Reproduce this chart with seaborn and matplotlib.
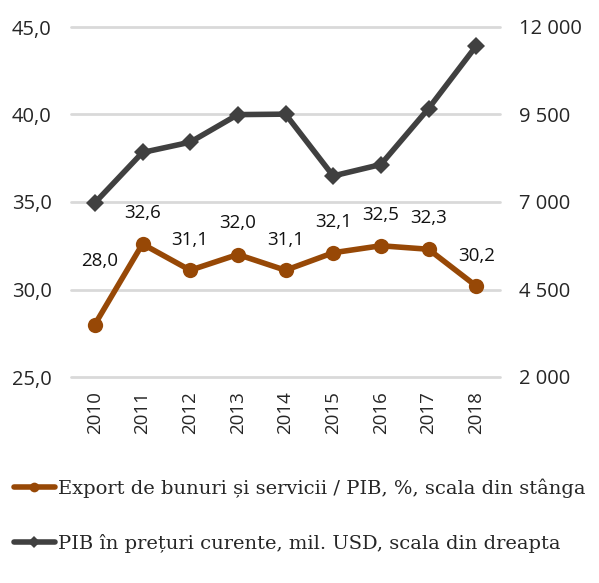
import matplotlib
matplotlib.use("Agg")
import matplotlib.pyplot as plt
from matplotlib.lines import Line2D
import seaborn as sns
import pandas as pd
from matplotlib.ticker import FuncFormatter, FixedLocator

years = [2010, 2011, 2012, 2013, 2014, 2015, 2016, 2017, 2018]
export_share = [28.0, 32.6, 31.1, 32.0, 31.1, 32.1, 32.5, 32.3, 30.2]
gdp_usd = [6975, 8415, 8709, 9497, 9510, 7745, 8071, 9670, 11457]
left_ticks = [25.0, 30.0, 35.0, 40.0, 45.0]
right_ticks = [2000, 4500, 7000, 9500, 12000]
label_export = "Export de bunuri și servicii / PIB, %, scala din stânga"
label_gdp = "PIB în prețuri curente, mil. USD, scala din dreapta"
# label offsets in pixels (dx, dy) relative to point
label_offsets = [(5, 63), (0, 31), (0, 30), (0, 31), (0, 30), (0, 31), (0, 31), (0, 31), (0, 30)]

df = pd.DataFrame({"year": years, "export": export_share, "gdp": gdp_usd})

sns.set_theme(style="white")
plt.rcParams["font.family"] = ["Open Sans", "DejaVu Sans"]

fig = plt.figure(figsize=(5.99, 5.83), dpi=100)
ax = fig.add_axes([71/599, 1-377/583, (500-71)/599, (377-27)/583])
ax2 = ax.twinx()

orange = "#974806"
gray = "#404040"

ax.set_ylim(25, 45)
ax2.set_ylim(2000, 12000)
ax.set_xlim(2009.5, 2018.5)
ax.yaxis.set_major_locator(FixedLocator(left_ticks))
ax2.yaxis.set_major_locator(FixedLocator(right_ticks))
ax2.grid(True, axis="y", color="#d9d9d9", linewidth=2)
ax2.set_axisbelow(True)
for gl in ax2.get_ygridlines():
    gl.set_clip_on(False)

sns.lineplot(data=df, x="year", y="gdp", ax=ax2, color=gray, linewidth=4, marker="D",
             markersize=9, markeredgewidth=0, legend=False)
sns.lineplot(data=df, x="year", y="export", ax=ax, color=orange, linewidth=4, marker="o",
             markersize=11, markeredgewidth=0, legend=False)

ax.set_zorder(ax2.get_zorder() + 1)
ax.patch.set_visible(False)

for (x, v, (dx, dy)) in zip(years, export_share, label_offsets):
    ax.annotate(f"{v:.1f}".replace(".", ","), (x, v), xytext=(dx*0.72, dy*0.72),
                textcoords="offset points", ha="center", va="center", fontsize=13.5, color="#111111")

ax.set_xticks(years)
ax.set_xticklabels([str(y) for y in years], rotation=90, fontsize=13.5)
ax.yaxis.set_major_formatter(FuncFormatter(lambda v, p: f"{v:.1f}".replace(".", ",")))
ax2.yaxis.set_major_formatter(FuncFormatter(lambda v, p: f"{int(v):,}".replace(",", " ")))
ax.tick_params(axis="y", labelsize=14.5, length=0, pad=14)
ax2.tick_params(axis="y", labelsize=14.5, length=0, pad=14)
ax.tick_params(axis="x", length=0, pad=10)
ax.set_xlabel("")
ax.set_ylabel("")
ax2.set_ylabel("")
for a in (ax, ax2):
    for s in a.spines.values():
        s.set_visible(False)

handles = [
    Line2D([], [], color=orange, linewidth=4, marker="o", markersize=7, markeredgewidth=0),
    Line2D([], [], color=gray, linewidth=4, marker="D", markersize=6, markeredgewidth=0),
]
fig.legend(handles, [label_export, label_gdp], loc="upper left", bbox_to_anchor=(0.01, 1-471/583),
           frameon=False, prop={"family": "DejaVu Serif", "size": 14.0},
           handlelength=2.1, handletextpad=0.2, labelspacing=1.85, borderaxespad=0)

fig.savefig("out.png", dpi=100)
